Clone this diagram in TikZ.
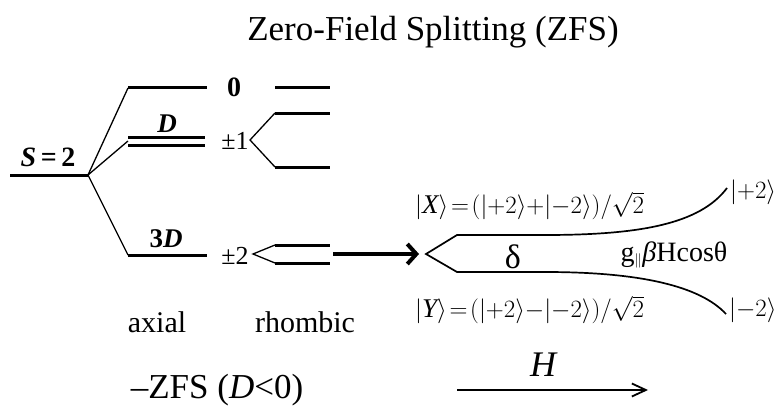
\documentclass[tikz,border=0pt]{standalone}
\usepackage{fontspec}
\setmainfont{Liberation Serif}
\usetikzlibrary{arrows.meta,positioning,calc}
\newcommand{\fs}[1]{\fontsize{#1}{#1}\selectfont}
\newcommand{\ketv}[1]{|#1\rangle}
\tikzset{
  level/.style={line width=3pt},
  branch/.style={line width=1.3pt},
  lens/.style={line width=1.7pt},
  bigarrow/.style={line width=4pt, -{Straight Barb[length=9pt,width=20pt]}},
  fieldarrow/.style={line width=1.8pt, -{Straight Barb[length=14pt,width=13pt]}},
  lbl/.style={inner sep=0pt, font=\fs{26}},
  word/.style={inner sep=0pt, font=\fs{30}},
  ket/.style={inner sep=0pt, anchor=west, font=\fs{27}},
}
\begin{document}
\begin{tikzpicture}[x=1pt,y=-1pt]
  \useasboundingbox (0,0) rectangle (783,409);
  \node[inner sep=0pt, font=\fs{35}] (ttl) at (433,32) {Zero-Field Splitting (ZFS)};

  % axial levels
  \coordinate (s2a) at (10,175);  \coordinate (s2b) at (88,175);
  \coordinate (m0a) at (128,88);  \coordinate (m0b) at (207,88);
  \coordinate (m1a) at (128,141); \coordinate (m1b) at (205,141);
  \coordinate (m2a) at (128,255); \coordinate (m2b) at (207,255);
  \draw[level] (s2a) -- (s2b);
  \draw[level] (m0a) -- (m0b);
  \draw[level] ($(m1a)+(0,-4)$) -- ($(m1b)+(0,-4)$);
  \draw[level] ($(m1a)+(0,4)$) -- ($(m1b)+(0,4)$);
  \draw[level] (m2a) -- (m2b);
  \draw[branch] (s2b) -- (m0a);
  \draw[branch] (s2b) -- (m1a);
  \draw[branch] (s2b) -- (m2a);

  \node[lbl, font=\fs{28}\bfseries] (slbl) at (48,157) {\textit{S}\,=\,2};
  \node[lbl, font=\fs{27}\bfseries\itshape] (dlbl) at (167,124) {D};
  \node[lbl, font=\fs{27}\bfseries] (tdlbl) at (166,239) {3\textit{D}};
  \node[lbl, font=\fs{28}\bfseries] (n0) at (234,87) {0};
  \node[lbl] (n1) at (235,141) {±1};
  \node[lbl] (n2) at (235,256) {±2};

  % rhombic levels
  \coordinate (r0a) at (275,88);  \coordinate (r0b) at (330,88);
  \coordinate (v1) at (250,140);
  \coordinate (r1ua) at (275,113); \coordinate (r1ub) at (330,113);
  \coordinate (r1la) at (275,167); \coordinate (r1lb) at (330,167);
  \coordinate (v2) at (253,254);
  \coordinate (r2ua) at (275,245); \coordinate (r2ub) at (330,245);
  \coordinate (r2la) at (275,263); \coordinate (r2lb) at (330,263);
  \draw[level] (r0a) -- (r0b);
  \draw[level] (r1ua) -- (r1ub);
  \draw[level] (r1la) -- (r1lb);
  \draw[level] (r2ua) -- (r2ub);
  \draw[level] (r2la) -- (r2lb);
  \draw[branch] (r1ua) -- (v1) -- (r1la);
  \draw[branch] (r2ua) -- (v2) -- (r2la);

  \node[word] (axial) at (157,322) {axial};
  \node[word] (rhombic) at (305,322) {rhombic};
  \node[inner sep=0pt, font=\fs{35}] (neg) at (217,390) {–ZFS (\textit{D}<0)};

  % field splitting of +-2
  \coordinate (arrs) at (333,254); \coordinate (arre) at (419,254);
  \draw[bigarrow] (arrs) -- (arre);
  \coordinate (tip) at (426,254);
  \coordinate (cu) at (457,235); \coordinate (cl) at (457,272);
  \coordinate (eu) at (727,188); \coordinate (el) at (726,314);
  \draw[lens] (eu) .. controls (700,224) and (640,235) .. (545,235) -- (cu) -- (tip)
    -- (cl) -- (545,272) .. controls (640,272) and (700,286) .. (el);

  \node[ket] (kx) at (415,206) {$\ketv{\textit{X}}\!=\!\bigl(\ketv{{+}2}{+}\ketv{{-}2}\bigr)/\sqrt{2}$};
  \node[ket] (ky) at (415,310) {$\ketv{\textit{Y}}\!=\!\bigl(\ketv{{+}2}{-}\ketv{{-}2}\bigr)/\sqrt{2}$};
  \node[ket] (kp) at (730,192) {$\ketv{{+}2}$};
  \node[ket] (km) at (729,310) {$\ketv{{-}2}$};
  \node[inner sep=0pt, font=\fs{34}] (delta) at (513,257) {δ};
  \node[inner sep=0pt, font=\fs{28}] (zee) at (674,255) {g$_{\scriptscriptstyle\parallel}$\textit{β}Hcosθ};

  \coordinate (hs) at (457,390); \coordinate (he) at (648,390);
  \draw[fieldarrow] (hs) -- (he);
  \node[inner sep=0pt, font=\fs{36}\itshape] (hlbl) at (543,365) {H};
\end{tikzpicture}
\end{document}
